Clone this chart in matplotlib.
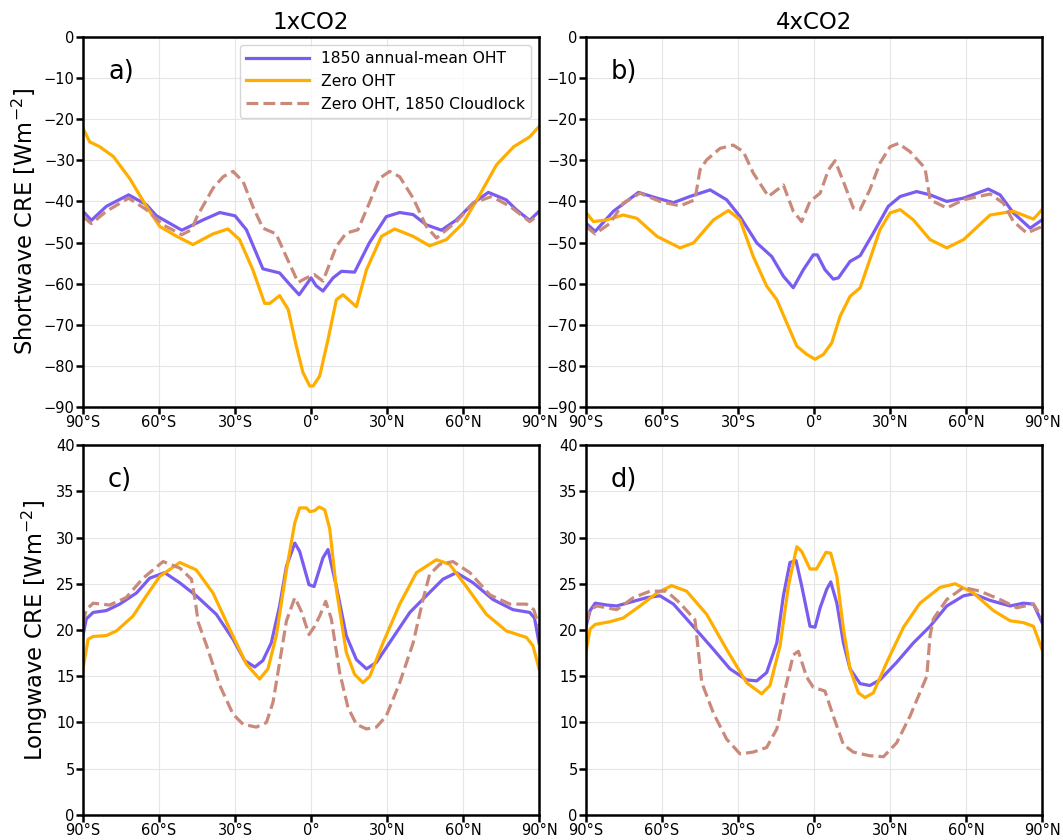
import matplotlib.pyplot as plt
import numpy as np

# ---- panel a: shortwave CRE, 1xCO2 ----
lat_a_ctrl = [-90, -86.7, -80.8, -72, -65, -61, -51, -42.6, -36, -30, -25.5, -19, -12.4, -8.4, -4.7, -1.8, 0,
              2, 4.7, 8.7, 12, 17.2, 23, 29.7, 35, 40.3, 45.5, 51.5, 57.4, 64, 70, 77, 81, 86.3, 90]
sw_1x_ctrl = [-42.4, -44.6, -41.2, -38.4, -40.8, -43.5, -47, -44.5, -42.7, -43.5, -46.9, -56.4, -57.4, -60.2, -62.7, -60.2, -58.6,
              -60.5, -61.8, -58.6, -57, -57.2, -50.1, -43.7, -42.7, -43.2, -45.7, -47, -44.5, -40.4, -37.8, -39.6, -42, -44.6, -42.4]

lat_a_zero = [-90, -87.4, -83.4, -78, -71.6, -65, -59.7, -53, -46.6, -38.7, -32.8, -28.2, -23, -18.3, -16.3, -12.4, -9,
              -5.8, -3.2, -0.5, 0.8, 3.4, 6.7, 10, 12.6, 17.9, 21.9, 27.8, 33, 40.3, 46.8, 53.4, 60, 66.6, 73.2, 80, 86.3, 90]
sw_1x_zero = [-22.2, -25.5, -26.7, -29.1, -34.4, -41.2, -46.1, -48.5, -50.5, -47.9, -46.7, -49.3, -56.6, -64.8, -64.8, -62.9, -66.3,
              -75.2, -81.6, -84.9, -84.9, -82.5, -73.6, -63.9, -62.7, -65.6, -56.6, -48.5, -46.7, -48.5, -50.8, -49.3, -45.3, -38.4, -31.1, -26.7, -24.3, -21.8]

lat_a_lock = [-90, -86.7, -80.8, -72, -65, -58.4, -51, -47.2, -45, -38.7, -34.7, -30.8, -26.8, -23, -19, -13.8, -9.8, -5.1,
              -1.8, 1.3, 4.7, 10, 13.9, 18.5, 23, 27, 31, 35, 40.3, 45.5, 49.5, 57.4, 64, 71.3, 78.5, 86.3, 90]
sw_1x_lock = [-43.7, -45.4, -42.4, -39.2, -42, -45.7, -48.1, -46.9, -43.7, -36.8, -34, -32.7, -35.2, -41.2, -46.5, -47.9, -53.4, -59.7,
              -58.6, -57.8, -59.4, -50.9, -47.7, -46.9, -40.4, -34.4, -32.7, -34, -39.2, -46.1, -48.9, -44.9, -40.4, -38.8, -41.2, -44.9, -43.3]

# ---- panel b: shortwave CRE, 4xCO2 ----
lat_b_ctrl = [-90, -86.4, -79.2, -69.3, -62, -55.5, -49, -41, -34.5, -29.2, -22.6, -16.7, -12.1, -8.2, -4.2, -0.3, 1.3, 4.3,
              7.6, 9.6, 14.2, 18.2, 23.4, 29.3, 34, 40.5, 45.8, 52.4, 59, 68.8, 73.4, 78.7, 85.3, 90]
sw_4x_ctrl = [-45.3, -47.3, -42.4, -37.8, -39.2, -40.3, -38.8, -37.2, -39.6, -43.7, -50.1, -53.4, -58.2, -61, -56.6, -53, -53, -56.6,
              -58.9, -58.6, -54.6, -53.2, -47.7, -41.2, -38.8, -37.6, -38.4, -40, -39.2, -37, -38.4, -42.8, -46.5, -44.5]

lat_b_zero = [-90, -87.1, -81.8, -75.3, -70, -62, -52.9, -47.6, -39.7, -33.8, -29.2, -24, -18.7, -14.7, -10.8, -6.8, -2.9, 0.4,
              3.7, 7, 10.3, 14.2, 18.2, 22, 26, 30, 34, 39.2, 45.8, 52.4, 59, 69.5, 78.7, 86.6, 90]
sw_4x_zero = [-42.7, -44.9, -44.5, -43.3, -44.1, -48.5, -51.3, -50.1, -44.5, -42.2, -44.5, -53.4, -60.6, -63.9, -69.5, -75.2, -77.2, -78.4,
              -77.2, -74.4, -67.9, -63.1, -61, -54.2, -46.9, -42.8, -42, -44.5, -49.3, -51.3, -49.3, -43.3, -42.4, -44.3, -42]

lat_b_lock = [-90, -86.4, -80.5, -75.3, -68.7, -60.8, -52.9, -47, -45, -42.4, -37.1, -31.9, -27.9, -24, -18, -12.1, -8.2, -4.9,
              -1.6, 2.4, 5.7, 8.3, 11.6, 15.5, 18.2, 22, 26, 30, 33.3, 37.9, 43.8, 45.8, 52.4, 59, 69.5, 74.7, 78.7, 84, 90]
sw_4x_lock = [-46.1, -47.9, -45.3, -40.4, -38, -40, -41.1, -39.6, -32.3, -29.9, -27.1, -26.3, -27.9, -33.1, -38.8, -36, -42.4, -44.9,
              -40, -38, -32.3, -30.1, -35.2, -41.6, -42, -37.2, -30.7, -26.7, -25.9, -27.9, -31.9, -39.6, -41.6, -39.6, -38.2, -40.4, -44.9, -47.7, -46.1]

# ---- panel c: longwave CRE, 1xCO2 ----
lat_c_ctrl = [-90, -88.7, -86, -80.8, -75.5, -68.9, -63.7, -57.8, -51.8, -45.3, -37.4, -30.8, -26.2, -22.2, -19, -15.7, -12.4,
              -9.7, -6.4, -4.5, -0.8, 1.2, 4.7, 6.7, 10, 13.9, 17.9, 21.9, 25.8, 32.4, 39, 45.5, 52.1, 57.4, 64, 71.8, 79.7, 86.3, 88.2, 90]
lw_1x_ctrl = [19.4, 21.2, 21.9, 22.1, 22.8, 24, 25.6, 26.2, 25.1, 23.7, 21.7, 19, 16.7, 16, 16.7, 18.6, 22.6,
              26.9, 29.4, 28.5, 24.9, 24.7, 27.8, 28.7, 24.7, 19.4, 16.8, 15.8, 16.5, 19.2, 21.9, 23.7, 25.5, 26.2, 25.1, 23.3, 22.2, 21.9, 21.3, 18.6]

lat_c_zero = [-90, -88, -86, -80.8, -76.8, -70.3, -65, -59.7, -51.8, -45.3, -38.7, -32.1, -25.5, -20.3, -17, -13.7, -9.7,
              -6.4, -4.5, -1.8, -0.5, 1.4, 3.2, 5.4, 7.4, 10, 13.9, 17.2, 20.5, 23.2, 28.4, 35, 41.6, 49.5, 54.7, 61.3, 69.2, 77.1, 85, 87.6, 90]
lw_1x_zero = [15.8, 19, 19.3, 19.4, 19.9, 21.5, 23.7, 25.8, 27.3, 26.5, 24, 20.1, 16.3, 14.7, 15.8, 19.4, 26.5,
              31.6, 33.2, 33.2, 32.8, 32.9, 33.3, 33, 30.9, 24.4, 17.6, 15.2, 14.3, 15, 18.6, 22.8, 26.2, 27.6, 27.1, 24.7, 21.7, 19.9, 19.2, 18.3, 15.8]

lat_c_lock = [-90, -88.7, -86, -79.5, -73, -66.3, -58.4, -51.8, -47.2, -45.8, -44.5, -41.2, -36, -30.8, -26.8, -21.6, -17.6, -15,
              -12.4, -9.7, -6.4, -3.8, -0.8, 1.4, 3.4, 5.8, 8, 11.3, 14.6, 17.9, 21.9, 25.8, 29.7, 35, 40.3, 44.2, 46.8, 50.8, 56,
              62.7, 70.6, 78.5, 85, 87.9, 90]
lw_1x_lock = [20.8, 22.2, 22.9, 22.7, 23.5, 25.6, 27.4, 26.7, 25.5, 23.3, 20.8, 18.3, 14, 10.9, 9.8, 9.5, 10, 12.2,
              16.5, 21, 23.5, 22, 19.5, 20.4, 21.5, 23.1, 21.2, 15.4, 11.6, 9.8, 9.3, 9.5, 10.7, 14.3, 18.6, 23.3, 26, 27.1, 27.4,
              26.2, 23.8, 22.8, 22.8, 22.2, 20.4]

# ---- panel d: longwave CRE, 4xCO2 ----
lat_d_ctrl = [-90, -88.4, -86.4, -81.8, -77.9, -72.6, -66, -60.8, -55.5, -49, -39.7, -33.2, -26.6, -22.6, -18.7, -14.7, -12.1,
              -9.5, -7.1, -4.9, -1.6, 0.4, 2.4, 5, 6.6, 9, 11.6, 14.2, 18.2, 22, 26, 32.6, 39.2, 45.8, 52.4, 59, 62.9, 69.5,
              77.4, 82.6, 86.6, 90]
lw_4x_ctrl = [20.4, 22.1, 22.9, 22.7, 22.6, 23, 23.5, 23.7, 22.8, 20.8, 17.9, 15.8, 14.6, 14.5, 15.4, 18.6, 23.7,
              27.3, 27.5, 24.8, 20.4, 20.3, 22.4, 24.4, 25.2, 22.9, 18.6, 15.8, 14.2, 14, 14.6, 16.5, 18.6, 20.4, 22.6, 23.7, 23.9, 23.2,
              22.6, 22.9, 22.8, 20.8]

lat_d_zero = [-90, -88.4, -86.4, -80.5, -75.3, -68.7, -62, -56.2, -50.3, -42.4, -34.5, -26.6, -20.7, -17.4, -13.4, -10.1, -6.8,
              -4.9, -1.6, 1, 4.7, 6.6, 9, 11.6, 14.2, 17.5, 20.1, 23.4, 28.7, 35.3, 41.8, 49.7, 55.7, 62.9, 70.8, 77.4, 82.6,
              86.6, 90]
lw_4x_zero = [17.7, 20.1, 20.6, 20.9, 21.3, 22.6, 24, 24.8, 24.2, 21.7, 17.9, 14.3, 13.1, 14, 18.3, 24.8, 29,
              28.5, 26.6, 26.6, 28.4, 28.3, 25.8, 20.1, 15.8, 13.2, 12.7, 13.2, 16.5, 20.3, 22.9, 24.6, 25, 24, 22.1, 21, 20.8,
              20.4, 17.9]

lat_d_lock = [-90, -88.4, -85.7, -77.9, -71.3, -64.7, -58.2, -52.9, -47, -46.3, -44.3, -39.7, -34.5, -29.2, -24, -18.7, -14.7,
              -11.4, -8.2, -6.2, -2.9, -0.3, 4.3, 7.6, 11.6, 15.5, 22, 27.4, 32.6, 37.9, 44.5, 45.8, 47.1, 52.4, 59, 65.5, 73.4,
              80, 86.6, 90]
lw_4x_lock = [20.8, 22.2, 22.6, 22.2, 23.5, 24.2, 24.2, 22.9, 21.1, 19.3, 14.3, 11, 8.2, 6.6, 6.8, 7.3, 9.3,
              13.6, 17.3, 17.7, 14.9, 13.8, 13.4, 10.7, 7.6, 6.8, 6.4, 6.3, 7.8, 10.7, 15, 19.4, 21.2, 23.3, 24.6, 24.2, 23.3,
              22.4, 22.8, 21.3]

lat_ticks = [-90, -60, -30, 0, 30, 60, 90]
lat_ticklabels = ["90°S", "60°S", "30°S", "0°", "30°N", "60°N", "90°N"]
labels = ["1850 annual-mean OHT", "Zero OHT", "Zero OHT, 1850 Cloudlock"]
colors = ["#7B5CF0", "#FFAE00", "#C98A7B"]

panels = [
    ("a)", (lat_a_ctrl, sw_1x_ctrl), (lat_a_zero, sw_1x_zero), (lat_a_lock, sw_1x_lock)),
    ("b)", (lat_b_ctrl, sw_4x_ctrl), (lat_b_zero, sw_4x_zero), (lat_b_lock, sw_4x_lock)),
    ("c)", (lat_c_ctrl, lw_1x_ctrl), (lat_c_zero, lw_1x_zero), (lat_c_lock, lw_1x_lock)),
    ("d)", (lat_d_ctrl, lw_4x_ctrl), (lat_d_zero, lw_4x_zero), (lat_d_lock, lw_4x_lock)),
]

fig = plt.figure(figsize=(10.63, 8.4), dpi=100)
rects = [
    [0.0781, 0.5155, 0.429, 0.4405],
    [0.5513, 0.5155, 0.429, 0.4405],
    [0.0781, 0.0298, 0.429, 0.4404],
    [0.5513, 0.0298, 0.429, 0.4404],
]

for i, (rect, (tag, ctrl, zero, lock)) in enumerate(zip(rects, panels)):
    ax = fig.add_axes(rect)
    ax.plot(ctrl[0], ctrl[1], color=colors[0], lw=2.3, label=labels[0])
    ax.plot(zero[0], zero[1], color=colors[1], lw=2.3, label=labels[1])
    ax.plot(lock[0], lock[1], color=colors[2], lw=2.3, ls="--", label=labels[2])
    ax.set_xlim(-90, 90)
    ax.set_xticks(lat_ticks)
    ax.set_xticklabels(lat_ticklabels)
    if i < 2:
        ax.set_ylim(-90, 0)
        ax.set_yticks(np.arange(-90, 1, 10))
    else:
        ax.set_ylim(0, 40)
        ax.set_yticks(np.arange(0, 41, 5))
    ax.grid(color="#e6e6e6", lw=0.8)
    for sp in ax.spines.values():
        sp.set_linewidth(1.8)
    ax.tick_params(width=1.8, length=5, labelsize=10.5, pad=1)
    ax.text(0.055, 0.905, tag, transform=ax.transAxes, fontsize=18.5, ha="left", va="center")
    if i == 0:
        ax.legend(loc="upper right", fontsize=11.2, handlelength=4.0, borderaxespad=0.5)
        ax.set_ylabel("Shortwave CRE [Wm$^{-2}$]", fontsize=16.3)
        ax.set_title("1xCO2", fontsize=16.5, pad=6)
    if i == 1:
        ax.set_title("4xCO2", fontsize=16.5, pad=6)
    if i == 2:
        ax.set_ylabel("Longwave CRE [Wm$^{-2}$]", fontsize=16.3)

fig.savefig("out.png", dpi=100)
